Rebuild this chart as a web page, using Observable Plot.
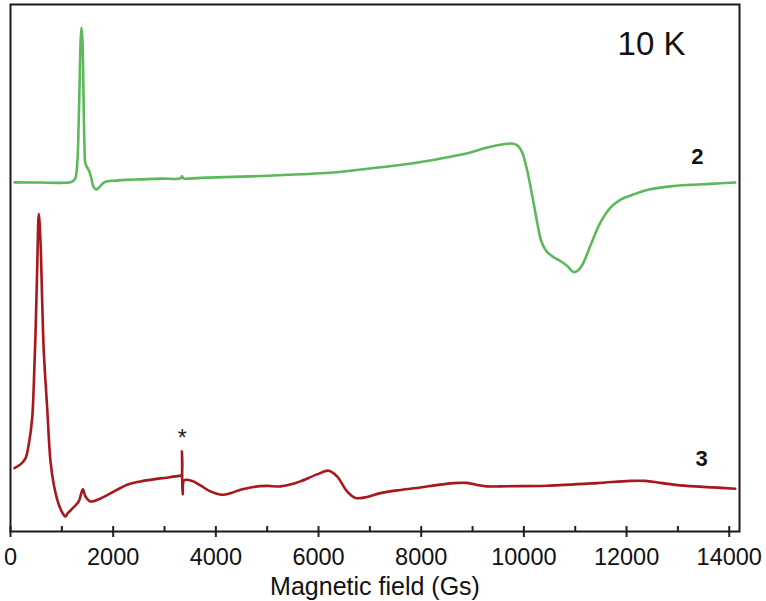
<!DOCTYPE html>
<html>
<head>
<meta charset="utf-8">
<script src="https://cdn.jsdelivr.net/npm/d3@7"></script>
<script src="https://cdn.jsdelivr.net/npm/@observablehq/plot@0.6"></script>
<style>
  html, body { margin: 0; padding: 0; background: #fff; }
  #chart svg { display: block; }
</style>
</head>
<body>
<div id="chart"></div>
<script>
// EPR spectra at 10 K, arbitrary intensity units (vertically offset traces)
const field2 = [78, 584, 974, 1168, 1227, 1266, 1304, 1324, 1343, 1363, 1382, 1402, 1421, 1441, 1460, 1499, 1538, 1577, 1616, 1674, 1733, 1811, 1889, 2044, 2239, 2531, 2921, 3310, 3339, 3368, 3699, 4673, 5646, 6230, 6620, 7204, 7905, 8567, 8957, 9346, 9599, 9794, 9891, 9969, 10066, 10163, 10261, 10338, 10436, 10572, 10709, 10845, 10962, 11040, 11137, 11293, 11487, 11682, 11877, 12169, 12461, 12851, 13240, 13630, 14117];
const signal2 = [348.5, 348.3, 348, 348.5, 350, 353, 370, 400, 440, 485, 503, 490, 440, 385, 367, 363, 359, 352, 344, 341.5, 344, 348, 349.5, 350.2, 351, 351.5, 352.2, 352.5, 354.5, 352.5, 353, 354.5, 356.5, 358, 360, 363.5, 368, 374, 378.3, 384, 386.5, 387, 384.5, 378, 360, 335, 308, 290, 280, 274, 270, 265, 259, 260, 266, 285, 308, 323, 331, 337, 341.5, 344.5, 346, 347, 348.3];

const field3 = [78, 195, 292, 356, 422, 454, 487, 520, 551, 584, 617, 648, 715, 779, 843, 940, 1038, 1071, 1110, 1207, 1330, 1372, 1411, 1460, 1558, 1752, 1947, 2272, 2531, 2921, 3281, 3329, 3339, 3353, 3378, 3441, 3563, 3699, 3894, 4122, 4300, 4479, 4731, 4990, 5257, 5450, 5646, 5971, 6197, 6361, 6556, 6717, 6945, 7204, 7593, 7983, 8300, 8631, 8892, 9087, 9281, 9700, 10450, 11423, 12072, 12364, 12656, 13045, 13694, 14117];
const signal3 = [63.3, 67, 73, 87, 113, 147, 197, 263, 317, 290, 230, 180, 123, 70, 47, 27, 16.5, 15, 18, 23, 30, 37, 42, 35, 30, 33, 38, 46.7, 50, 53, 55.5, 56, 80, 37, 51, 51.7, 50, 46, 40, 36.7, 38.5, 41.7, 44.5, 45.5, 45, 46.8, 50, 57, 60.7, 55, 40, 33.5, 34.5, 38.3, 41.5, 44, 46.3, 48.3, 48.5, 46.5, 45, 45.2, 45.7, 48.3, 50.5, 50.5, 48.5, 46, 44, 42.7];

const majorTicks = [0, 2000, 4000, 6000, 8000, 10000, 12000, 14000];
const minorTicks = [1000, 3000, 5000, 7000, 9000, 11000, 13000];

const labelTexts = ["10 K", "2", "3", "*"];
const labelFields = [12486, 13381, 13460, 3344];
const labelSignals = [486, 374, 72, 92.5];

const xDomain = [0, 14200];
const yDomain = [0, 526];

const series2 = field2.map((f, i) => ({field: f, signal: signal2[i]}));
const series3 = field3.map((f, i) => ({field: f, signal: signal3[i]}));
const annotations = labelTexts.map((t, i) => ({text: t, field: labelFields[i], signal: labelSignals[i]}));

const font = "'Liberation Sans', Arial, Helvetica, sans-serif";
const W = 766, H = 601, mT = 4, mB = 70;
const innerH = H - mT - mB;

const chart = Plot.plot({
  width: W,
  height: H,
  marginLeft: 10,
  marginRight: 27,
  marginTop: mT,
  marginBottom: mB,
  style: {fontFamily: font, background: "#fff", color: "#111"},
  x: {domain: xDomain},
  y: {domain: yDomain, axis: null},
  marks: [
    Plot.line(series2, {x: "field", y: "signal", stroke: "#5cb85a", strokeWidth: 2.6, curve: "catmull-rom"}),
    Plot.line(series3, {x: "field", y: "signal", stroke: "#a8171b", strokeWidth: 2.6, curve: "catmull-rom"}),
    Plot.text(annotations.slice(0, 1), {x: "field", y: "signal", text: "text", fontSize: 33, fill: "#111"}),
    Plot.text(annotations.slice(1, 3), {x: "field", y: "signal", text: "text", fontSize: 22, fontWeight: "bold", fill: "#111"}),
    Plot.text(annotations.slice(3), {x: "field", y: "signal", text: "text", fontSize: 23, fill: "#222"}),
    Plot.axisX(majorTicks, {tickSize: 6, tickPadding: 11, fontSize: 23.5, tickFormat: d => String(d), stroke: "#222", strokeWidth: 2, label: "Magnetic field (Gs)", labelAnchor: "center", labelArrow: "none", labelOffset: 63}),
    Plot.ruleX(majorTicks.concat(minorTicks), {x: d => d, insetTop: innerH - 5, stroke: "#222", strokeWidth: 2}),
    Plot.frame({stroke: "#1a1a1a", strokeWidth: 2})
  ]
});

chart.querySelectorAll("g[aria-label='x-axis label']").forEach(el => el.setAttribute("font-size", 25));
document.getElementById("chart").appendChild(chart);
</script>
</body>
</html>
